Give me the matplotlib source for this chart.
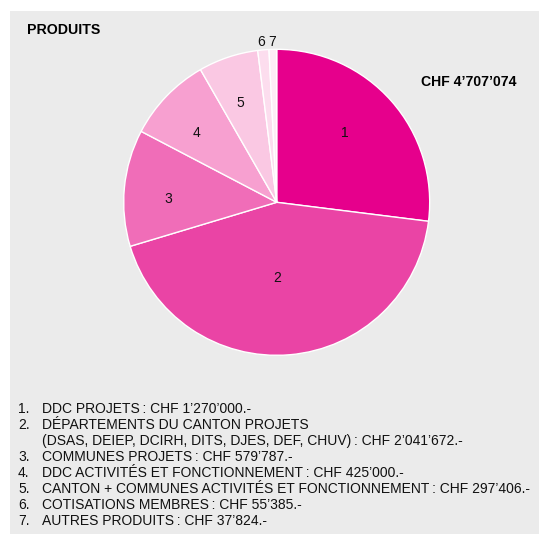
import matplotlib
matplotlib.use("Agg")
import matplotlib.pyplot as plt
import numpy as np
from matplotlib.patches import Rectangle

plt.rcParams['font.family'] = ['Liberation Sans', 'DejaVu Sans']

labels = ["1", "2", "3", "4", "5", "6", "7"]
values = [1270000, 2041672, 579787, 425000, 297406, 55385, 37824]
colors = ["#E6008C", "#EA44A5", "#F06DB8", "#F7A0D0", "#FAC8E3", "#FCDDEE", "#FEEDF6"]
# label placement (style): radius fraction and clockwise angular shift in degrees
label_r = [0.637, 0.497, 0.709, 0.693, 0.694, 1.055, 1.05]
label_shift = [-4.1, 4.8, -3.75, -2.9, -1.7, -0.6, -0.35]
title = "PRODUITS"
total_text = "CHF 4\u2019707\u2019074"
legend_lines = [
    ("1.", "DDC PROJETS\u2009: CHF 1\u2019270\u2019000.-"),
    ("2.", "DÉPARTEMENTS DU CANTON PROJETS"),
    ("", "(DSAS, DEIEP, DCIRH, DITS, DJES, DEF, CHUV)\u2009: CHF 2\u2019041\u2019672.-"),
    ("3.", "COMMUNES PROJETS\u2009: CHF 579\u2019787.-"),
    ("4.", "DDC ACTIVITÉS ET FONCTIONNEMENT\u2009: CHF 425\u2019000.-"),
    ("5.", "CANTON + COMMUNES ACTIVITÉS ET FONCTIONNEMENT\u2009: CHF 297\u2019406.-"),
    ("6.", "COTISATIONS MEMBRES\u2009: CHF 55\u2019385.-"),
    ("7.", "AUTRES PRODUITS\u2009: CHF 37\u2019824.-"),
]

W, H = 539, 534
fig = plt.figure(figsize=(W / 100, H / 100), dpi=100)
fig.patch.set_facecolor("white")
fig.patches.append(Rectangle((10 / W, 0), 1 - 10 / W, 1 - 11 / H, transform=fig.transFigure,
                             facecolor="#EBEBEB", edgecolor="none", zorder=-5))

cx, cy, r = 276.7, 202.3, 153
ax = fig.add_axes([(cx - r) / W, (H - cy - r) / H, 2 * r / W, 2 * r / H])
ax.set_zorder(2)
ax.set_facecolor("none")
wedges, texts = ax.pie(values, colors=colors, startangle=90, counterclock=False,
                       labels=labels, labeldistance=1.0,
                       wedgeprops=dict(edgecolor="white", linewidth=1.0))
for w, t, d, s in zip(wedges, texts, label_r, label_shift):
    ang = np.deg2rad((w.theta1 + w.theta2) / 2 - s)
    t.set_position((d * np.cos(ang), d * np.sin(ang)))
    t.set_ha("center")
    t.set_va("center")
    t.set_fontsize(10)
    t.set_color("#111111")
ax.set_xlim(-1, 1)
ax.set_ylim(-1, 1)
ax.set_aspect("equal")
ax.axis("off")

fig.text(27 / W, 1 - 30 / H, title, fontsize=10.2, fontweight="bold", va="center", ha="left", zorder=3)
fig.text(421 / W, 1 - 82 / H, total_text, fontsize=10.1, fontweight="bold", va="center", ha="left", zorder=3)

y0 = 409
for i, (num, txt) in enumerate(legend_lines):
    y = 1 - (y0 + i * 16) / H
    if num:
        fig.text(18 / W, y, num, fontsize=10, va="center", ha="left", color="#111111", zorder=3)
    fig.text(42 / W, y, txt, fontsize=10, va="center", ha="left", color="#111111", zorder=3)

fig.savefig("out.png", dpi=100)
